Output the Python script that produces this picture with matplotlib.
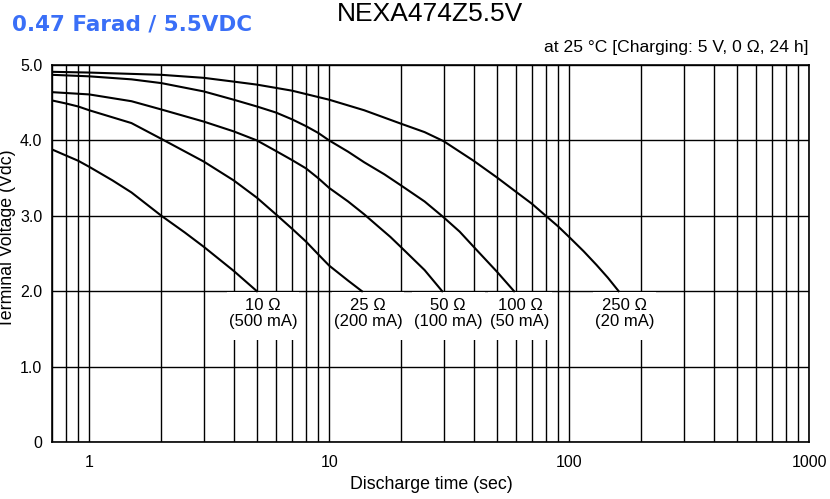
import matplotlib.pyplot as plt
from matplotlib.patches import Rectangle
from matplotlib.ticker import LogLocator, NullFormatter

plt.rcParams['font.family'] = ['Liberation Sans', 'DejaVu Sans']

# discharge curves (time in s, terminal voltage in V)
t_10 = [0.7, 0.8, 0.9, 1, 1.25, 1.5, 2, 2.5, 3, 4, 5]
v_10 = [3.88, 3.80, 3.73, 3.65, 3.47, 3.31, 3.0, 2.78, 2.59, 2.27, 2.0]

t_25 = [0.7, 0.8, 0.9, 1, 1.5, 2, 3, 4, 5, 6, 7, 8, 9, 10, 12, 13.7]
v_25 = [4.53, 4.49, 4.45, 4.40, 4.23, 4.02, 3.72, 3.47, 3.24, 3.02, 2.83, 2.66, 2.49, 2.34, 2.14, 2.0]

t_50 = [0.7, 1, 1.5, 2, 3, 4, 5, 6, 7, 8, 9, 10, 12, 14, 16, 18, 20, 25, 29.6]
v_50 = [4.64, 4.61, 4.52, 4.41, 4.25, 4.12, 4.0, 3.86, 3.74, 3.63, 3.50, 3.37, 3.19, 3.02, 2.86, 2.72, 2.58, 2.28, 2.0]

t_100 = [0.7, 1, 1.5, 2, 3, 4, 5, 6, 7, 8, 9, 10, 12, 14, 17, 20, 25, 30, 35, 40, 50, 59]
v_100 = [4.87, 4.85, 4.81, 4.76, 4.65, 4.54, 4.45, 4.37, 4.28, 4.19, 4.10, 4.0, 3.85, 3.71, 3.55, 3.40, 3.19, 2.98, 2.79, 2.59, 2.26, 2.0]

t_250 = [0.7, 1, 2, 3, 4, 5, 7, 10, 14, 20, 25, 30, 40, 50, 60, 70, 80, 90, 100, 115, 130, 145, 161]
v_250 = [4.91, 4.90, 4.87, 4.83, 4.78, 4.74, 4.66, 4.54, 4.40, 4.22, 4.11, 3.99, 3.73, 3.51, 3.32, 3.16, 3.0, 2.86, 2.72, 2.53, 2.35, 2.18, 2.0]

ohm_labels = ['10 Ω', '25 Ω', '50 Ω', '100 Ω', '250 Ω']
ma_labels = ['(500 mA)', '(200 mA)', '(100 mA)', '(50 mA)', '(20 mA)']

x_ticks = [1, 10, 100, 1000]
y_ticks = [0, 1, 2, 3, 4, 5]
y_ticklabels = ['0', '1.0', '2.0', '3.0', '4.0', '5.0']

curves = [(t_10, v_10), (t_25, v_25), (t_50, v_50), (t_100, v_100), (t_250, v_250)]

fig = plt.figure(figsize=(8.3, 4.99), dpi=100)
ax = fig.add_axes([0.0627, 0.1142, 0.912, 0.7555])

for t, v in curves:
    ax.plot(t, v, color='black', lw=1.5, zorder=3, solid_joinstyle='round')

ax.set_xscale('log')
ax.set_xlim(0.7, 1000)
ax.set_ylim(0, 5)
ax.set_xticks(x_ticks)
ax.set_xticklabels([str(x) for x in x_ticks])
ax.xaxis.set_minor_locator(LogLocator(base=10, subs=range(2, 10)))
ax.xaxis.set_minor_formatter(NullFormatter())
ax.set_yticks(y_ticks)
ax.set_yticklabels(y_ticklabels)
ax.tick_params(which='both', length=0, labelsize=11.5)
ax.tick_params(axis='x', pad=9)
ax.tick_params(axis='y', pad=7)
ax.set_axisbelow(True)
ax.grid(which='both', color='black', lw=1.0)
for s in ax.spines.values():
    s.set_linewidth(1.2)

# resistance / current labels under the curve ends
texts = []
for (t, v), o, m in zip(curves, ohm_labels, ma_labels):
    txt = ax.annotate(o + '\n' + m, xy=(t[-1], v[-1]), xytext=(6, -7),
                      textcoords='offset pixels', ha='center', va='top',
                      fontsize=12, linespacing=1.1, zorder=4)
    texts.append(txt)

# white gap in the grid behind each label, like the original sheet
fig.canvas.draw()
r = fig.canvas.get_renderer()
inv = ax.transData.inverted()
for txt in texts:
    bb = txt.get_window_extent(r)
    x0 = inv.transform((bb.x0 - 2, 0))[0]
    x1 = inv.transform((bb.x1 + 2, 0))[0]
    ax.add_patch(Rectangle((x0, 1.35), x1 - x0, 0.64, facecolor='white',
                           edgecolor='none', zorder=1))

fig.text(0.518, 1 - 21 / 499, 'NEXA474Z5.5V', fontsize=19, ha='center', va='baseline')
fig.text(12 / 830, 1 - 31 / 499, '0.47 Farad / 5.5VDC', fontsize=15.5,
         fontweight='bold', color='#3a6ff7', family='DejaVu Sans', va='baseline')
fig.text(808 / 830, 1 - 52 / 499, 'at 25 °C [Charging: 5 V, 0 Ω, 24 h]',
         fontsize=12.6, ha='right', va='baseline')
fig.text(431 / 830, 1 - 489 / 499, 'Discharge time (sec)', fontsize=12.8,
         ha='center', va='baseline')
fig.text(16 / 830, 1 - 239 / 499, 'Terminal Voltage (Vdc)', fontsize=12.8,
         rotation=90, ha='right', va='center')

fig.savefig('out.png', dpi=100)
